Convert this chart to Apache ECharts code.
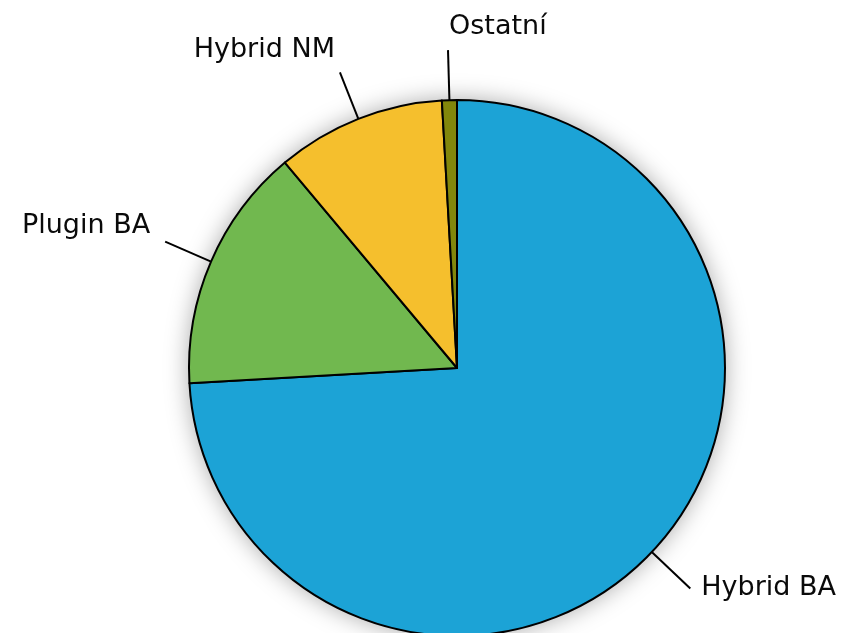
<!DOCTYPE html>
<html>
<head>
<meta charset="utf-8">
<script src="https://cdn.jsdelivr.net/npm/echarts@6/dist/echarts.min.js"></script>
<style>
  html, body { margin: 0; padding: 0; background: #fff; }
  #pie { width: 843px; height: 633px; }
</style>
</head>
<body>
<div id="pie"></div>
<script>
// podíly (%)
var names = ['Hybrid BA', 'Plugin BA', 'Hybrid NM', 'Ostatní']
var shares = [74.1, 14.8, 10.2, 0.9]
var colors = ['#1CA3D6', '#71B84F', '#F5BF2D', '#82870B']

// vodorovné odsazení popisků a posun nahoru (přes prázdný druhý řádek)
var labelPad = [[0, 0, 0, 6], [0, 10, 0, 0], [0, 0, 0, 0], [0, 0, 0, 6]]
var labelLift = [0, 32, 44, 46]
var lineLen = [53, 50, 50, 50]

function createPie() {
    var pieChart = echarts.init(document.getElementById('pie'))
    var items = []
    for (var i = 0; i < names.length; i++) {
        var lbl = { padding: labelPad[i] }
        if (labelLift[i] > 0) {
            lbl.formatter = '{b}\n'
            lbl.lineHeight = labelLift[i]
        }
        items.push({
            name: names[i],
            value: shares[i],
            itemStyle: { color: colors[i] },
            label: lbl,
            labelLine: { length: lineLen[i], length2: 0 }
        })
    }
    var option = {
        backgroundColor: '#fff',
        animation: false,
        series: [
            {
                // jen stín pod koláčem
                type: 'pie',
                silent: true,
                z: 1,
                center: [457, 368],
                radius: 268,
                label: { show: false },
                labelLine: { show: false },
                itemStyle: {
                    color: '#fff',
                    shadowBlur: 24,
                    shadowColor: 'rgba(0,0,0,0.35)'
                },
                data: [{ name: '', value: 1 }]
            },
            {
                type: 'pie',
                z: 2,
                center: [457, 368],
                radius: 268,
                startAngle: 90,
                clockwise: true,
                avoidLabelOverlap: false,
                itemStyle: {
                    borderColor: '#000',
                    borderWidth: 2
                },
                label: {
                    show: true,
                    formatter: '{b}',
                    fontFamily: 'DejaVu Sans',
                    fontSize: 27,
                    color: '#0a0a0a',
                    distanceToLabelLine: 5
                },
                labelLine: {
                    show: true,
                    smooth: false,
                    lineStyle: { color: '#000', width: 2 }
                },
                labelLayout: function (params) {
                    // Ostatní leží těsně vlevo od vrcholu, ale text je v originále vpravo od čáry
                    if (params.dataIndex === 3) {
                        return { align: 'left' }
                    }
                },
                emphasis: { disabled: true },
                data: items
            }
        ]
    }
    pieChart.setOption(option)
}

createPie()
</script>
</body>
</html>
